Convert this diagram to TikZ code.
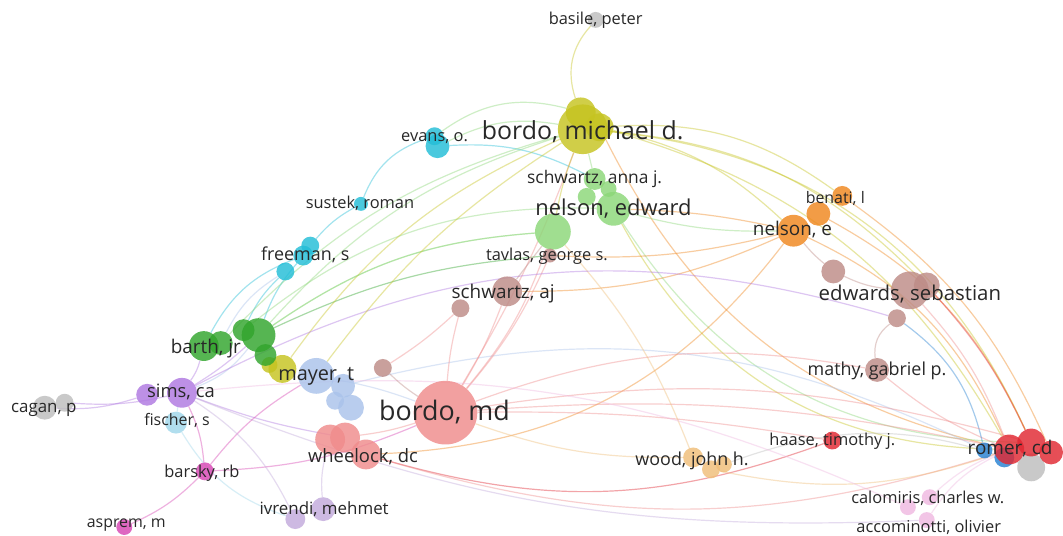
\documentclass[tikz,border=0pt]{standalone}
\usepackage{fontspec}
\setmainfont{Open Sans}
\usetikzlibrary{backgrounds}
\definecolor{vosyellow}{RGB}{198,196,32}
\definecolor{vosgray}{RGB}{190,190,190}
\definecolor{voscyan}{RGB}{35,190,215}
\definecolor{vosgreen}{RGB}{50,165,45}
\definecolor{voslgreen}{RGB}{140,215,120}
\definecolor{vosorange}{RGB}{240,135,30}
\definecolor{vosbrown}{RGB}{190,140,135}
\definecolor{voslblue}{RGB}{170,195,235}
\definecolor{vospurple}{RGB}{175,120,225}
\definecolor{voslcyan}{RGB}{160,215,235}
\definecolor{vossalmon}{RGB}{240,140,140}
\definecolor{vosmagenta}{RGB}{215,70,180}
\definecolor{voslav}{RGB}{195,170,220}
\definecolor{vostan}{RGB}{240,190,120}
\definecolor{vosred}{RGB}{225,40,50}
\definecolor{vosblue}{RGB}{40,130,210}
\definecolor{vospink}{RGB}{240,185,225}
\definecolor{vostext}{RGB}{40,40,40}
\tikzset{
  dot/.style 2 args={circle, inner sep=0pt, minimum size=#2, fill=#1, fill opacity=0.82, draw=none},
  lbl/.style={inner sep=0pt, anchor=base, text=vostext, font=\fontsize{#1}{#1}\selectfont},
  lnk/.style={line width=1.2pt, draw=#1, draw opacity=0.42},
}

\begin{document}
\begin{tikzpicture}[x=1pt, y=-1pt]

% ── Circles: yellow / gray ─────────────────────────────
\node[dot={vosyellow}{50pt}] (bm1) at (586,130) {};
\node[dot={vosyellow}{30pt}] (bm2) at (584,113) {};
\node[dot={vosyellow}{28pt}] (bm3) at (603,128) {};
\node[dot={vosyellow}{28pt}] (ylw1) at (284,371) {};
\node[dot={vosyellow}{16pt}] (ylw2) at (271,367) {};
\node[dot={vosgray}{16pt}] (basile) at (599,20) {};
\node[dot={vosgray}{24pt}] (cag1) at (45,410) {};
\node[dot={vosgray}{18pt}] (cag2) at (65,405) {};
\node[dot={vosgray}{28pt}] (romg) at (1037,470) {};

% ── Circles: cyan / greens ─────────────────────────────
\node[dot={voscyan}{24pt}] (evans1) at (440,147) {};
\node[dot={voscyan}{18pt}] (evans2) at (437,137) {};
\node[dot={voscyan}{14pt}] (sustek) at (363,205) {};
\node[dot={voscyan}{20pt}] (free1) at (305,257) {};
\node[dot={voscyan}{18pt}] (free2) at (312,247) {};
\node[dot={voscyan}{18pt}] (free3) at (287,273) {};
\node[dot={vosgreen}{30pt}] (barth1) at (205,348) {};
\node[dot={vosgreen}{24pt}] (barth2) at (222,345) {};
\node[dot={vosgreen}{34pt}] (grn1) at (260,337) {};
\node[dot={vosgreen}{22pt}] (grn2) at (245,332) {};
\node[dot={vosgreen}{22pt}] (grn3) at (267,357) {};
\node[dot={voslgreen}{34pt}] (ned1) at (617,210) {};
\node[dot={voslgreen}{36pt}] (ned2) at (556,233) {};
\node[dot={voslgreen}{22pt}] (ned3) at (598,180) {};
\node[dot={voslgreen}{18pt}] (ned4) at (590,198) {};
\node[dot={voslgreen}{16pt}] (ned5) at (612,190) {};

% ── Circles: orange / brown ────────────────────────────
\node[dot={vosorange}{32pt}] (nele) at (798,232) {};
\node[dot={vosorange}{24pt}] (ben1) at (823,215) {};
\node[dot={vosorange}{20pt}] (ben2) at (847,197) {};
\node[dot={vosbrown}{38pt}] (ed1) at (915,292) {};
\node[dot={vosbrown}{26pt}] (ed2) at (932,287) {};
\node[dot={vosbrown}{18pt}] (ed3) at (902,320) {};
\node[dot={vosbrown}{24pt}] (ed4) at (838,273) {};
\node[dot={vosbrown}{24pt}] (mathy) at (882,372) {};
\node[dot={vosbrown}{30pt}] (saj1) at (510,293) {};
\node[dot={vosbrown}{18pt}] (saj2) at (463,310) {};
\node[dot={vosbrown}{14pt}] (tavlas) at (553,257) {};
\node[dot={vosbrown}{18pt}] (brn) at (385,370) {};

% ── Circles: left and lower clusters ───────────────────
\node[dot={voslblue}{36pt}] (may1) at (318,378) {};
\node[dot={voslblue}{24pt}] (may2) at (345,388) {};
\node[dot={voslblue}{18pt}] (may3) at (337,403) {};
\node[dot={voslblue}{26pt}] (may4) at (353,410) {};
\node[dot={vospurple}{30pt}] (sims1) at (183,395) {};
\node[dot={vospurple}{22pt}] (sims2) at (148,397) {};
\node[dot={voslcyan}{22pt}] (fischer) at (177,425) {};
\node[dot={vossalmon}{64pt}] (bmd) at (448,415) {};
\node[dot={vossalmon}{30pt}] (wh1) at (332,442) {};
\node[dot={vossalmon}{30pt}] (wh2) at (347,440) {};
\node[dot={vossalmon}{30pt}] (wh3) at (368,457) {};
\node[dot={vosmagenta}{18pt}] (barsky) at (206,474) {};
\node[dot={vosmagenta}{16pt}] (asprem) at (125,530) {};
\node[dot={voslav}{20pt}] (ivr1) at (297,522) {};
\node[dot={voslav}{24pt}] (ivr2) at (325,512) {};

% ── Circles: right clusters ────────────────────────────
\node[dot={vostan}{20pt}] (wood1) at (697,460) {};
\node[dot={vostan}{18pt}] (wood2) at (715,472) {};
\node[dot={vostan}{16pt}] (wood3) at (728,467) {};
\node[dot={vosred}{18pt}] (haase) at (837,443) {};
\node[dot={vosblue}{16pt}] (romb1) at (990,453) {};
\node[dot={vosblue}{20pt}] (romb2) at (1010,460) {};
\node[dot={vosred}{30pt}] (rom1) at (1015,452) {};
\node[dot={vosred}{28pt}] (rom2) at (1037,445) {};
\node[dot={vosred}{24pt}] (rom3) at (1057,455) {};
\node[dot={vospink}{16pt}] (calo1) at (935,500) {};
\node[dot={vospink}{16pt}] (calo2) at (913,510) {};
\node[dot={vospink}{16pt}] (acco) at (932,523) {};

% ── Links ──────────────────────────────────────────────
\begin{pgfonlayer}{background}
\fill[white] (0,0) rectangle (1063,539);
\foreach \a/\b/\c/\d in {
  basile/bm2/vosyellow/-30, evans2/bm2/voslgreen/25, evans1/bm1/voslgreen/18,
  evans1/ned3/voscyan/15, evans2/sustek/voscyan/-25, sustek/free2/voscyan/-10,
  free1/grn1/voscyan/-10, free3/grn2/voscyan/-10, free3/barth2/voslblue/-15,
  free1/barth1/voscyan/-20, grn1/bm1/voslgreen/15, grn1/ned2/voslgreen/15,
  grn2/ned1/voslgreen/20, grn1/tavlas/vosgreen/10, ylw1/bm1/vosyellow/15,
  bm1/ben2/vosyellow/20, bm3/nele/vosyellow/15, bm1/rom2/vosyellow/30,
  bm3/rom1/vosyellow/22, bm1/ed2/vosyellow/20, ned1/rom1/vosyellow/-30,
  bm3/rom1/vosorange/-25, ned1/rom2/voslgreen/-28, ned1/nele/vosorange/5,
  ned1/nele/voslgreen/-8, nele/saj1/vosorange/12, nele/tavlas/vosorange/8,
  nele/wh3/vosorange/25, nele/rom1/vosorange/20, ben1/rom2/vosorange/18,
  ben2/rom3/vosorange/15, ed1/rom1/vossalmon/10, ed2/rom2/vosred/8,
  ed4/ed1/vosbrown/-10, ed4/nele/vosbrown/5, ed3/mathy/vosbrown/-30,
  mathy/rom1/vossalmon/-8, romb1/ed3/vosblue/-20, may2/romb1/voslblue/20,
  romg/wood3/vosgray/-20, bmd/saj1/vossalmon/-5, bmd/saj2/vossalmon/5,
  bmd/tavlas/vossalmon/-8, bmd/ned2/vossalmon/-10, bmd/bm1/vossalmon/-5,
  bmd/wh2/vossalmon/5, bmd/mathy/vossalmon/15, bmd/rom1/vossalmon/8,
  bmd/rom2/vossalmon/12, bmd/haase/vossalmon/5, haase/wh3/vosred/18,
  rom1/wh3/vossalmon/17, wood1/bmd/vostan/10, wood2/rom1/vostan/-15,
  wood1/ned2/vostan/-10, calo1/rom1/vospink/10, acco/rom1/vospink/15,
  sims1/calo2/vospink/15, sims1/cag2/vospurple/8, sims2/cag1/vospurple/10,
  sims1/barth1/vospurple/-10, sims1/grn1/vospurple/-5, sims1/grn1/voslblue/-15,
  sims1/ed3/vospurple/22, sims1/wh2/vospurple/-5, sims1/acco/voslav/-12,
  barsky/asprem/vosmagenta/10, barsky/sims1/vosmagenta/-10, barsky/bmd/vosmagenta/-10,
  barsky/may1/vosmagenta/10, fischer/sims1/voslcyan/5, fischer/ivr1/voslcyan/-20,
  ivr2/wh1/voslav/10, ivr1/sims1/voslav/-15, may1/bmd/voslblue/5,
  brn/bmd/vosbrown/-5, saj1/ned2/vosbrown/0, tavlas/ned2/vosbrown/0,
  saj2/brn/vossalmon/5, ned3/bm1/voslgreen/0, ned2/bm1/vosyellow/5,
  ned2/grn1/voslgreen/-15, bm1/barth2/voslgreen/-15, bm1/may1/vosyellow/-10}
  \draw[lnk=\c] (\a) to[bend left=\d] (\b);
\end{pgfonlayer}

% ── Labels ─────────────────────────────────────────────
\node[lbl=16.5] (t-basile) at (599,25) {basile, peter};
\node[lbl=25] (t-bm) at (586,140) {bordo, michael d.};
\node[lbl=16.5] (t-evans) at (437,142) {evans, o.};
\node[lbl=16.5] (t-sustek) at (362,210) {sustek, roman};
\node[lbl=17.5] (t-saj2) at (598,185) {schwartz, anna j.};
\node[lbl=22] (t-ned) at (617,217) {nelson, edward};
\node[lbl=16] (t-benati) at (840,205) {benati, l};
\node[lbl=19] (t-nele) at (797,237) {nelson, e};
\node[lbl=18] (t-freeman) at (307,262) {freeman, s};
\node[lbl=16.5] (t-tavlas) at (550,262) {tavlas, george s.};
\node[lbl=19] (t-saj) at (506,300) {schwartz, aj};
\node[lbl=20.5] (t-ed) at (915,302) {edwards, sebastian};
\node[lbl=19] (t-barth) at (207,355) {barth, jr};
\node[lbl=20] (t-mayer) at (318,383) {mayer, t};
\node[lbl=18] (t-mathy) at (882,378) {mathy, gabriel p.};
\node[lbl=18.5] (t-sims) at (182,400) {sims, ca};
\node[lbl=17] (t-cagan) at (44,415) {cagan, p};
\node[lbl=27] (t-bmd) at (447,423) {bordo, md};
\node[lbl=16] (t-fischer) at (178,428) {fischer, s};
\node[lbl=16.5] (t-haase) at (837,448) {haase, timothy j.};
\node[lbl=19] (t-romer) [anchor=base west] at (973,457) {romer, cd};
\node[lbl=18.5] (t-wh) at (365,465) {wheelock, dc};
\node[lbl=18] (t-wood) at (696,468) {wood, john h.};
\node[lbl=16.5] (t-barsky) at (203,480) {barsky, rb};
\node[lbl=16.5] (t-calo) at (933,506) {calomiris, charles w.};
\node[lbl=17] (t-ivr) at (326,517) {ivrendi, mehmet};
\node[lbl=16] (t-asprem) at (127,530) {asprem, m};
\node[lbl=16.5] (t-acco) at (934,535) {accominotti, olivier};

\useasboundingbox (0,0) rectangle (1063,539);
\end{tikzpicture}
\end{document}
